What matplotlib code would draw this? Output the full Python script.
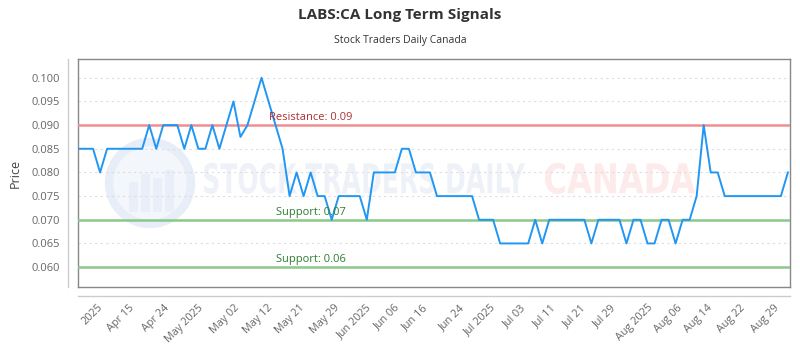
import numpy as np
import matplotlib
matplotlib.use('Agg')
import matplotlib.pyplot as plt
from matplotlib.patches import Circle, Rectangle, PathPatch
from matplotlib.textpath import TextPath
from matplotlib.font_manager import FontProperties
from matplotlib.lines import Line2D
import matplotlib.transforms as mtrans

plt.rcParams['font.family'] = ['Open Sans', 'DejaVu Sans']

# ---- data (daily close) ----
prices = ([0.085] * 3 + [0.080] + [0.085] * 6 + [0.090, 0.085] + [0.090] * 3 +
          [0.085, 0.090, 0.085, 0.085, 0.090, 0.085, 0.090, 0.095, 0.0875, 0.090,
           0.095, 0.100, 0.095, 0.090, 0.085, 0.075, 0.080, 0.075, 0.080] +
          [0.075] * 2 + [0.070] + [0.075] * 4 + [0.070] + [0.080] * 4 + [0.085] * 2 +
          [0.080] * 3 + [0.075] * 6 + [0.070] * 3 + [0.065] * 5 + [0.070, 0.065] +
          [0.070] * 6 + [0.065] + [0.070] * 4 + [0.065] + [0.070] * 2 + [0.065] * 2 +
          [0.070] * 2 + [0.065] + [0.070] * 2 + [0.075, 0.090] + [0.080] * 2 +
          [0.075] * 9 + [0.080])

tick_labels = ['2025', 'Apr 15', 'Apr 24', 'May 2025', 'May 02', 'May 12', 'May 21',
               'May 29', 'Jun 2025', 'Jun 06', 'Jun 16', 'Jun 24', 'Jul 2025', 'Jul 03',
               'Jul 11', 'Jul 21', 'Jul 29', 'Aug 2025', 'Aug 06', 'Aug 14', 'Aug 22',
               'Aug 29']
tick_pos = [2.6, 7.1, 12.1, 16.85, 22.1, 26.8, 31.3, 36.3, 40.8, 44.9, 48.9, 54.1,
            58.6, 62.9, 67.2, 71.5, 75.7, 81.0, 85.2, 89.5, 94.2, 99.0]

resistance = [0.09]
support = [0.07, 0.06]

x = np.arange(len(prices))

fig = plt.figure(figsize=(8, 3.5), dpi=100)
W, H = 800, 350
pix = mtrans.Affine2D().scale(1.0 / W, 1.0 / H) + fig.transFigure

L, R, T, B = 77.7, 790, 59.3, 287
ax = fig.add_axes([L / W, (H - B) / H, (R - L) / W, (B - T) / H])

# watermark
ax.add_patch(Circle((150, H - 183), 41, transform=pix, facecolor='#f3f6fb',
                    edgecolor='#e8eef7', lw=6, zorder=0, clip_on=False))
for bx, bh in [(133, 22), (145, 30), (157, 26), (169, 34)]:
    ax.add_patch(Rectangle((bx - 4, H - 212), 9, bh + 8, transform=pix,
                           facecolor='#e9eff8', edgecolor='none', zorder=0, clip_on=False))


def wm_text(s, x0, x1, color):
    tp = TextPath((0, 0), s, size=1, prop=FontProperties(family='DejaVu Sans', weight='bold'))
    ext = tp.get_extents()
    sx = (x1 - x0) / ext.width
    sy = 30 / 0.73
    tr = mtrans.Affine2D().translate(-ext.x0, 0).scale(sx, sy).translate(x0, H - 193.3) + pix
    ax.add_patch(PathPatch(tp, transform=tr, facecolor=color, edgecolor='none',
                           zorder=0, clip_on=False))


wm_text('STOCK TRADERS DAILY', 204, 525, '#eef2f8')
wm_text('CANADA', 545, 695, '#fdeaea')

ax.plot(x, prices, color='#2196f3', lw=1.4, zorder=4)

for r in resistance:
    ax.axhline(r, color='#ef8f8f', lw=1.8, zorder=3)
    ax.text(33, r + 0.0004, 'Resistance: %.2f' % r, color='#b03030', fontsize=8,
            ha='center', va='bottom', zorder=5)
for s in support:
    ax.axhline(s, color='#8cc78c', lw=1.8, zorder=3)
    ax.text(33, s + 0.0004, 'Support: %.2f' % s, color='#2e7d32', fontsize=8,
            ha='center', va='bottom', zorder=5)

ax.set_xlim(-0.19, 101.3)
ax.set_ylim(0.0558, 0.1039)
ax.set_yticks(np.arange(0.060, 0.1001, 0.005))
ax.set_yticklabels(['%.3f' % v for v in np.arange(0.060, 0.1001, 0.005)])
ax.yaxis.grid(True, color='#dddddd', lw=0.8, linestyle=(0, (2, 3)))
ax.set_axisbelow(True)
ax.set_xticks(tick_pos)
ax.set_xticklabels(tick_labels, rotation=45, ha='right', va='top', rotation_mode='anchor')
ax.tick_params(axis='y', length=0, pad=12.5, labelsize=8, labelcolor='#666666')
ax.tick_params(axis='x', length=0, pad=11, labelsize=7.8, labelcolor='#666666')
for sp in ax.spines.values():
    sp.set_color('#888888')
    sp.set_linewidth(1)

# outer axis lines
fig.add_artist(Line2D([67.7, 67.7], [H - 287, H - 59.3], transform=pix, color='#cccccc', lw=1))
fig.add_artist(Line2D([77.7, 790], [H - 296, H - 296], transform=pix, color='#cccccc', lw=1))

fig.text(400 / W, 1 - 15 / H, 'LABS:CA Long Term Signals', ha='center', va='center',
         fontsize=11, fontweight='bold', color='#333333')
fig.text(400 / W, 1 - 40 / H, 'Stock Traders Daily Canada', ha='center', va='center',
         fontsize=7.5, color='#333333')
fig.text(15 / W, 1 - 173 / H, 'Price', rotation=90, ha='center', va='center',
         fontsize=9, color='#444444')

plt.savefig('out.png', dpi=100)
